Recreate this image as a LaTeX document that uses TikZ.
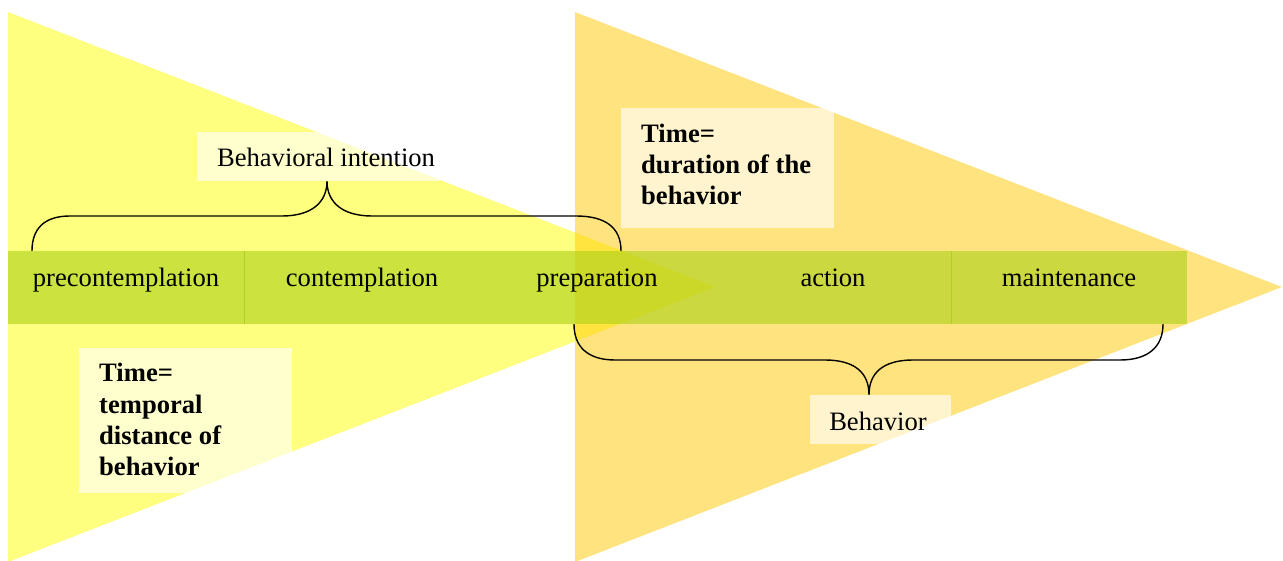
\documentclass[tikz,border=0pt]{standalone}
\usepackage{fontspec}
\setmainfont{Liberation Serif}
\definecolor{triyellow}{RGB}{255,255,0}
\definecolor{trigold}{RGB}{255,200,0}
\definecolor{bandgreen}{RGB}{174,210,26}
\definecolor{cellline}{RGB}{176,205,40}
\begin{document}
\begin{tikzpicture}[x=1bp,y=-1bp,
  txt/.style={font=\fontsize{26.6bp}{31bp}\selectfont, inner sep=0},
  boldtxt/.style={txt, font=\fontsize{26.6bp}{31bp}\selectfont\bfseries, align=left, anchor=base west},
  stage/.style={txt, anchor=base},
  panel/.style={fill=white, fill opacity=0.62, draw=none, inner sep=0, minimum width=#1},
  cell/.style={fill=bandgreen, fill opacity=0.63, draw=none, inner sep=0,
               minimum width=235.8bp, minimum height=73bp},
  brace/.style={draw=black, line width=1.4bp},
]
\useasboundingbox (0,0) rectangle (1283,561);

% two phase arrows
\fill[triyellow, opacity=0.5] (8,12) -- (715,287) -- (8,562) -- cycle;
\fill[trigold, opacity=0.5] (575,12) -- (1282,287) -- (575,562) -- cycle;

% stage band
\node[cell] (c1) at (125.9,287.5) {};
\node[cell] (c2) at (361.7,287.5) {};
\node[cell] (c3) at (597.5,287.5) {};
\node[cell] (c4) at (833.3,287.5) {};
\node[cell] (c5) at (1069.1,287.5) {};
\draw[cellline, line width=0.8bp] (c1.north east) -- (c1.south east);
\draw[cellline, line width=0.8bp] (c4.north east) -- (c4.south east);

\node[stage] (s1) at (126,287) {precontemplation};
\node[stage] (s2) at (362,287) {contemplation};
\node[stage] (s3) at (597,287) {preparation};
\node[stage] (s4) at (833,287) {action};
\node[stage] (s5) at (1069,287) {maintenance};

% label panels
\node[panel=243bp, minimum height=49bp] (pint) at (318.5,156.5) {};
\node[panel=213bp, minimum height=120bp] (pdur) at (727.5,168) {};
\node[panel=212bp, minimum height=145bp] (pdist) at (185.5,420.5) {};
\node[panel=141bp, minimum height=49bp] (pbeh) at (880.5,419.5) {};

\node[txt, anchor=base] (lint) at (326,167) {Behavioral intention};
\node[txt, anchor=base] (lbeh) at (878,430) {Behavior};
\node[boldtxt] (ldur) at (641,205) {Time=\\duration of the\\behavior};
\node[boldtxt] (ldist) at (99,475) {Time=\\temporal\\distance of\\behavior};

% braces
\coordinate (ia) at (c1.north west -| 32,0);
\coordinate (ib) at (c3.north -| 621,0);
\coordinate (ba) at (c3.south -| 574,0);
\coordinate (bb) at (c5.south -| 1163,0);
\draw[brace] (ia) .. controls (32,228) and (45,216) .. (70,216) -- (282,216)
  .. controls (312,216) and (327,202) .. (pint.south -| 327,0)
  .. controls (327,202) and (342,216) .. (372,216) -- (576,216)
  .. controls (606,216) and (621,228) .. (ib);
\draw[brace] (ba) .. controls (574,347) and (588,360) .. (615,360) -- (825,360)
  .. controls (855,360) and (869,373) .. (pbeh.north -| 869,0)
  .. controls (869,373) and (883,360) .. (913,360) -- (1120,360)
  .. controls (1148,360) and (1163,347) .. (bb);
\end{tikzpicture}
\end{document}
